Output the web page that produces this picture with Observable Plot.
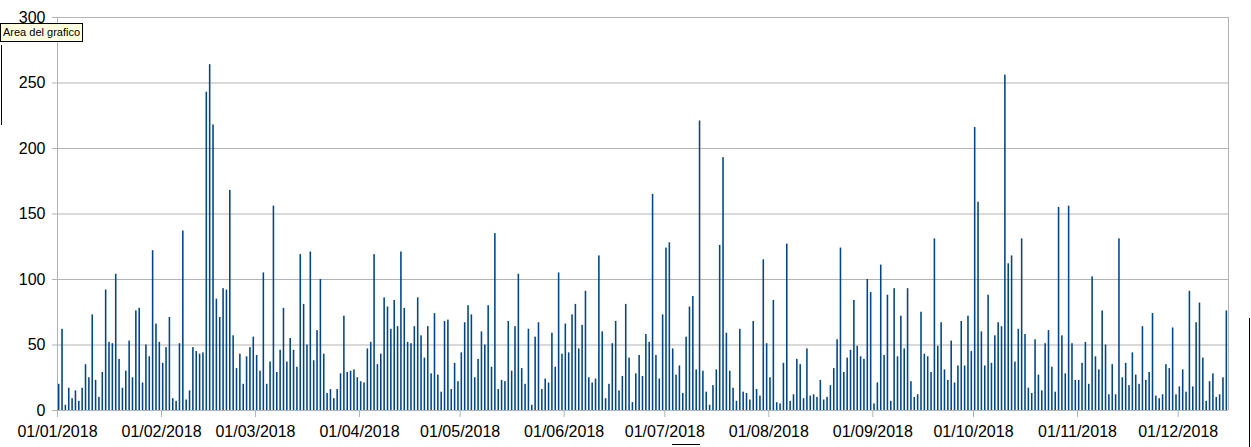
<!DOCTYPE html>
<html><head><meta charset="utf-8">
<script src="https://cdn.jsdelivr.net/npm/d3@7"></script>
<script src="https://cdn.jsdelivr.net/npm/@observablehq/plot@0.6"></script>
<style>
body{margin:0;background:#fff;}
#wrap{position:relative;width:1251px;height:447px;overflow:hidden;background:#fff;}
#wrap svg{display:block;}
.tip{position:absolute;left:0;top:23px;height:17px;padding:0 2px;background:#ffffe1;border:1px solid #000;font:11px 'Liberation Sans',Arial,sans-serif;line-height:17px;color:#000;white-space:nowrap;}
.ln{position:absolute;background:#000;}
</style></head><body><div id="wrap"></div>
<script>
const year = 2018;
const jan = [20, 62, 4, 17, 9, 15, 7, 17, 35, 25, 73, 23, 10, 29, 92, 52, 51, 104, 39, 17, 30, 53, 25, 76, 78, 21, 50, 41, 122, 66, 52];
const feb = [36, 48, 71, 9, 7, 51, 137, 8, 15, 48, 45, 43, 44, 243, 264, 218, 85, 71, 93, 92, 168, 57, 32, 43, 20, 41, 48, 56];
const mar = [42, 30, 105, 20, 37, 156, 29, 46, 78, 37, 55, 46, 33, 119, 81, 50, 121, 38, 61, 100, 43, 13, 16, 9, 16, 28, 72, 29, 30, 31, 25];
const apr = [22, 21, 47, 52, 119, 35, 43, 86, 79, 62, 84, 64, 121, 78, 52, 51, 64, 86, 57, 40, 64, 28, 74, 27, 14, 68, 69, 16, 36, 22];
const may = [44, 67, 80, 73, 25, 39, 60, 50, 80, 33, 135, 16, 23, 22, 68, 30, 64, 104, 32, 20, 62, 4, 56, 67, 16, 24, 21, 59, 33, 105, 43];
const jun = [66, 44, 73, 81, 47, 65, 91, 25, 21, 24, 118, 60, 9, 20, 51, 68, 15, 26, 81, 40, 6, 28, 42, 26, 58, 52, 165, 42, 24, 73];
const jul = [124, 128, 47, 27, 34, 13, 56, 79, 87, 31, 221, 30, 14, 4, 19, 31, 126, 193, 59, 30, 17, 7, 62, 14, 13, 8, 68, 16, 11, 115, 51];
const aug = [25, 84, 6, 5, 36, 127, 7, 12, 39, 35, 9, 47, 11, 12, 10, 23, 8, 10, 19, 32, 54, 124, 29, 40, 46, 84, 49, 41, 39, 100, 90];
const sep = [5, 21, 111, 42, 88, 7, 93, 41, 72, 47, 93, 22, 10, 12, 75, 43, 41, 29, 131, 49, 67, 31, 23, 53, 21, 34, 68, 34, 72, 45];
const oct = [216, 159, 60, 34, 88, 36, 57, 67, 64, 256, 112, 118, 37, 62, 131, 58, 17, 13, 54, 27, 15, 51, 61, 33, 14, 155, 57, 28, 156, 51, 23];
const nov = [23, 36, 52, 20, 102, 41, 31, 76, 50, 12, 35, 12, 131, 25, 36, 19, 44, 27, 20, 64, 23, 29, 74, 11, 9, 12, 35, 32, 63, 12];
const dec = [18, 31, 14, 91, 18, 67, 82, 40, 7, 22, 28, 10, 12, 25, 76];
const months = [jan, feb, mar, apr, may, jun, jul, aug, sep, oct, nov, dec];
const yTicks = [0, 50, 100, 150, 200, 250, 300];

const data = [];
months.forEach((vals, m) => vals.forEach((v, i) => data.push({date: new Date(Date.UTC(year, m, i + 1)), value: v})));
const start = new Date(Date.UTC(year, 0, 1));
const end = new Date(Date.UTC(year, 11, 16));
const monthStarts = d3.utcMonth.range(start, end);
const grid = "#b3b3b3";

const chart = Plot.plot({
  width: 1251, height: 447,
  marginLeft: 57, marginRight: 23, marginTop: 17, marginBottom: 37,
  style: {fontFamily: "'Liberation Sans', Arial, sans-serif", fontSize: "16px", background: "white", color: "black", overflow: "visible"},
  x: {type: "utc", domain: [start, end]},
  y: {domain: [0, 300]},
  marks: [
    Plot.gridY(yTicks, {stroke: grid, strokeOpacity: 1}),
    Plot.ruleX([start, end], {stroke: grid}),
    Plot.axisY(yTicks, {tickSize: 5, tickPadding: 7, stroke: grid, fill: "black", label: null}),
    Plot.axisX(monthStarts, {tickSize: 7, tickPadding: 8, tickFormat: d3.utcFormat("%d/%m/%Y"), stroke: grid, fill: "black", label: null}),
    Plot.rectY(data, {x1: "date", x2: d => d3.utcDay.offset(d.date, 1), y: "value", fill: "#004586", insetLeft: 0.9, insetRight: 0.9})
  ]
});
const wrap = document.getElementById("wrap");
wrap.appendChild(chart);
const tip = document.createElement("div");
tip.className = "tip";
tip.textContent = "Area del grafico";
wrap.appendChild(tip);
[[1, 45, 1, 80], [1249, 318, 1, 129], [672, 444, 28, 1]].forEach(([l, t, w, h]) => {
  const d = document.createElement("div");
  d.className = "ln";
  Object.assign(d.style, {left: l + "px", top: t + "px", width: w + "px", height: h + "px"});
  wrap.appendChild(d);
});
</script></body></html>
